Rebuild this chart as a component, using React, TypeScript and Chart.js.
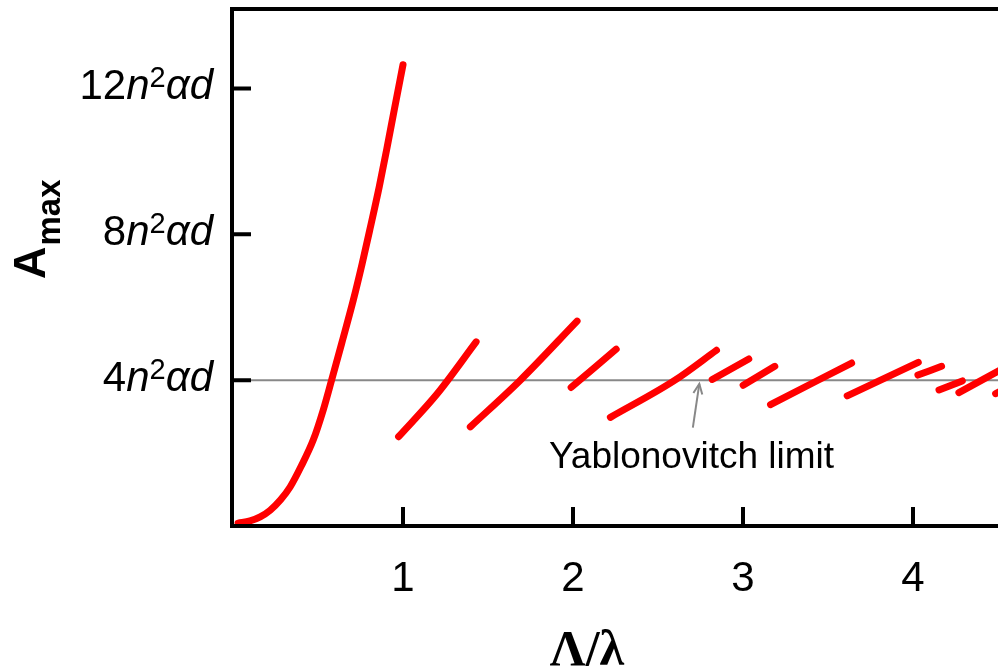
import React, { useEffect, useRef } from 'react';
import { Chart, registerables } from 'chart.js';

Chart.register(...registerables);

// ---- data ----
const fundamentalX = [0.03, 0.1, 0.16, 0.218, 0.28, 0.336, 0.4, 0.473, 0.53, 0.58, 0.64, 0.708, 0.76, 0.806, 0.86, 0.905, 0.95, 1.0];
const fundamentalY = [0.08, 0.14, 0.25, 0.43, 0.72, 1.07, 1.63, 2.37, 3.17, 4.0, 5.02, 6.2, 7.2, 8.15, 9.3, 10.35, 11.45, 12.65];

const branchX = [
  [0.974, 1.2, 1.43],
  [1.396, 1.69, 2.024],
  [1.989, 2.254],
  [2.22, 2.6, 2.844],
  [2.819, 3.034],
  [3.001, 3.187],
  [3.162, 3.639],
  [3.613, 4.031],
  [4.029, 4.168],
  [4.153, 4.29],
  [4.27, 4.55],
  [4.486, 4.6],
];
const branchY = [
  [2.45, 3.62, 5.05],
  [2.72, 4.0, 5.62],
  [3.8, 4.85],
  [2.98, 4.0, 4.82],
  [4.02, 4.58],
  [3.86, 4.38],
  [3.33, 4.47],
  [3.57, 4.49],
  [4.14, 4.38],
  [3.73, 3.98],
  [3.66, 4.37],
  [3.63, 3.89],
];

const limitValue = 4;
const limitLabel = 'Yablonovitch limit';
const limitLabelPos = [2.697, 1.59];
const arrowTail = [2.705, 2.7];
const arrowTip = [2.743, 3.9];

const xTickValues = [1, 2, 3, 4];
const xTickLabels = ['1', '2', '3', '4'];
const yTickValues = [4, 8, 12];
const yTickCoefficients = ['4', '8', '12'];

const xMin = 0;
const xMax = 4.5;
const yMin = 0;
const yMax = 14.18;

const SANS = '"Liberation Sans", Arial, Helvetica, sans-serif';
const SERIF = '"Liberation Serif", "Times New Roman", serif';

const decorPlugin = {
  id: 'decor',
  afterDraw(chart: any) {
    const { ctx, chartArea, scales } = chart;
    const xs = scales.x;
    const ys = scales.y;
    const left = chartArea.left - 1;
    const top = chartArea.top;
    const bottom = chartArea.bottom;
    const right = chartArea.right;
    ctx.save();

    // limit arrow
    const tx = xs.getPixelForValue(arrowTail[0]);
    const ty = ys.getPixelForValue(arrowTail[1]);
    const hx = xs.getPixelForValue(arrowTip[0]);
    const hy = ys.getPixelForValue(arrowTip[1]);
    ctx.strokeStyle = '#888888';
    ctx.lineWidth = 2;
    ctx.lineCap = 'butt';
    ctx.beginPath();
    ctx.moveTo(tx, ty);
    ctx.lineTo(hx, hy);
    ctx.stroke();
    const ang = Math.atan2(hy - ty, hx - tx);
    const hl = 11;
    const spread = 0.42;
    ctx.beginPath();
    ctx.moveTo(hx - hl * Math.cos(ang - spread), hy - hl * Math.sin(ang - spread));
    ctx.lineTo(hx, hy);
    ctx.lineTo(hx - hl * Math.cos(ang + spread), hy - hl * Math.sin(ang + spread));
    ctx.stroke();

    // limit label
    ctx.fillStyle = '#000';
    ctx.font = `37px ${SANS}`;
    ctx.textAlign = 'center';
    ctx.textBaseline = 'alphabetic';
    ctx.fillText(limitLabel, xs.getPixelForValue(limitLabelPos[0]), ys.getPixelForValue(limitLabelPos[1]));

    // frame
    ctx.strokeStyle = '#000';
    ctx.lineWidth = 4;
    ctx.lineJoin = 'miter';
    ctx.beginPath();
    ctx.moveTo(right + 4, top);
    ctx.lineTo(left, top);
    ctx.lineTo(left, bottom);
    ctx.lineTo(right + 4, bottom);
    ctx.stroke();

    // ticks (inward)
    ctx.beginPath();
    yTickValues.forEach((v) => {
      const y = ys.getPixelForValue(v);
      ctx.moveTo(left, y);
      ctx.lineTo(left + 19, y);
    });
    xTickValues.forEach((v) => {
      const x = xs.getPixelForValue(v);
      ctx.moveTo(x, bottom);
      ctx.lineTo(x, bottom - 19);
    });
    ctx.stroke();

    // x tick labels
    ctx.font = `42px ${SANS}`;
    ctx.textAlign = 'center';
    xTickValues.forEach((v, i) => {
      ctx.fillText(xTickLabels[i], xs.getPixelForValue(v), bottom + 65);
    });

    // y tick labels: coefficient + n^2 α d
    ctx.textAlign = 'left';
    yTickValues.forEach((v, i) => {
      const y = ys.getPixelForValue(v) + 11;
      const parts = [
        { t: yTickCoefficients[i], f: `42px ${SANS}`, dy: 0 },
        { t: 'n', f: `italic 42px ${SANS}`, dy: 0 },
        { t: '2', f: `29px ${SANS}`, dy: -12 },
        { t: 'α', f: `italic 42px ${SANS}`, dy: 0 },
        { t: 'd', f: `italic 42px ${SANS}`, dy: 0 },
      ];
      let total = 0;
      const widths = parts.map((p) => {
        ctx.font = p.f;
        const w = ctx.measureText(p.t).width;
        total += w;
        return w;
      });
      let x = left - 19 - total;
      parts.forEach((p, k) => {
        ctx.font = p.f;
        ctx.fillText(p.t, x, y + p.dy);
        x += widths[k];
      });
    });

    // x title
    ctx.font = `bold 50px ${SERIF}`;
    ctx.textAlign = 'center';
    ctx.fillText('Λ/λ', 587, 665);

    // y title (rotated)
    ctx.save();
    ctx.translate(45, 279);
    ctx.rotate(-Math.PI / 2);
    ctx.textAlign = 'left';
    ctx.font = `bold 45px ${SANS}`;
    ctx.fillText('A', 0, 0);
    const aw = ctx.measureText('A').width;
    ctx.font = `bold 33px ${SANS}`;
    ctx.fillText('max', aw + 1, 15);
    ctx.restore();

    ctx.restore();
  },
};

export default function App() {
  const canvasRef = useRef<HTMLCanvasElement | null>(null);

  useEffect(() => {
    const canvas = canvasRef.current;
    if (!canvas) return;

    const red = '#ff0000';
    const datasets: any[] = [];
    datasets.push({
      data: fundamentalX.map((x, i) => ({ x, y: fundamentalY[i] })),
      borderColor: red,
      borderWidth: 7,
      borderCapStyle: 'round',
      borderJoinStyle: 'round',
      pointRadius: 0,
      cubicInterpolationMode: 'monotone',
      fill: false,
      order: 0,
    });
    branchX.forEach((xsArr, b) => {
      datasets.push({
        data: xsArr.map((x, i) => ({ x, y: branchY[b][i] })),
        borderColor: red,
        borderWidth: 7,
        borderCapStyle: 'round',
        borderJoinStyle: 'round',
        pointRadius: 0,
        cubicInterpolationMode: 'monotone',
        fill: false,
        order: 0,
      });
    });
    datasets.push({
      data: [
        { x: xMin, y: limitValue },
        { x: xMax, y: limitValue },
      ],
      borderColor: '#888888',
      borderWidth: 2,
      pointRadius: 0,
      fill: false,
      order: 5,
    });

    const chart = new Chart(canvas, {
      type: 'line',
      data: { datasets },
      options: {
        animation: false,
        responsive: false,
        devicePixelRatio: 1,
        layout: { padding: { left: 233, top: 9, right: 0, bottom: 144 } },
        plugins: { legend: { display: false }, tooltip: { enabled: false } },
        events: [],
        scales: {
          x: { type: 'linear', min: xMin, max: xMax, display: false },
          y: { type: 'linear', min: yMin, max: yMax, display: false },
        },
      },
      plugins: [decorPlugin],
    } as any);

    return () => chart.destroy();
  }, []);

  return (
    <div style={{ position: 'absolute', left: 0, top: 0, width: 998, height: 670, background: '#fff' }}>
      <canvas ref={canvasRef} width={998} height={670} style={{ display: 'block', width: 998, height: 670 }} />
    </div>
  );
}
